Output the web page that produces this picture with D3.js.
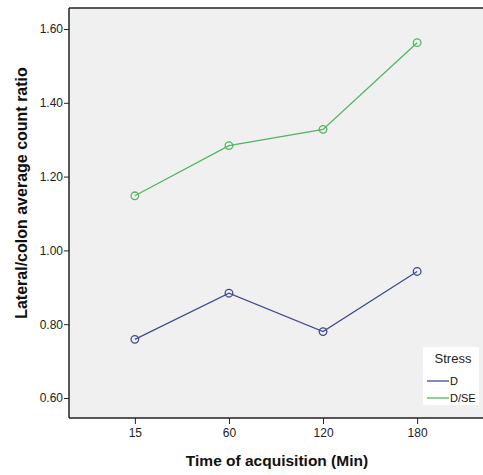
<!DOCTYPE html>
<html>
<head>
<meta charset="utf-8">
<script src="https://cdn.jsdelivr.net/npm/d3@7/dist/d3.min.js"></script>
<style>
  body { margin: 0; background: #fff; }
  svg { display: block; font-family: Arial, "Liberation Sans", sans-serif; }
</style>
</head>
<body>
<svg id="chart" width="483" height="475"></svg>
<script>
// values
var times = ['15', '60', '120', '180'];
var seriesNames = ['D', 'D/SE'];
var valuesD = [0.759, 0.884, 0.780, 0.943];
var valuesDSE = [1.148, 1.284, 1.328, 1.563];
var yTicks = [0.60, 0.80, 1.00, 1.20, 1.40, 1.60];
var colors = ['#3f4c8e', '#52b560'];

var width = 483;
var height = 475;
var plotLeft = 69;
var plotRight = 483;
var plotTop = 8;
var plotBottom = 418;

var svg = d3.select('#chart');

var x = d3.scalePoint()
    .domain(times)
    .range([plotLeft, plotRight])
    .padding(0.7);

var y = d3.scaleLinear()
    .domain([0.6, 1.6])
    .range([398, 29]);

// plot background
svg.append('rect')
    .attr('x', plotLeft)
    .attr('y', plotTop)
    .attr('width', plotRight - plotLeft)
    .attr('height', plotBottom - plotTop)
    .attr('fill', '#f0f0f0');

// frame top line
svg.append('line')
    .attr('x1', plotLeft).attr('x2', plotRight)
    .attr('y1', plotTop).attr('y2', plotTop)
    .attr('stroke', '#222').attr('stroke-width', 1.5);

// y axis
var yAxis = svg.append('g')
    .attr('transform', 'translate(' + plotLeft + ',0)')
    .call(d3.axisLeft(y).tickValues(yTicks).tickFormat(d3.format('.2f')).tickSize(5).tickSizeOuter(0));
yAxis.select('.domain').remove();
yAxis.append('line')
    .attr('x1', 0).attr('x2', 0)
    .attr('y1', plotTop).attr('y2', plotBottom)
    .attr('stroke', '#222').attr('stroke-width', 1.5);
yAxis.selectAll('.tick line').attr('stroke', '#222');
yAxis.selectAll('.tick text')
    .attr('font-size', 12)
    .attr('fill', '#222')
    .attr('x', -6);

// x axis
var xAxis = svg.append('g')
    .attr('transform', 'translate(0,' + plotBottom + ')')
    .call(d3.axisBottom(x).tickSize(6).tickSizeOuter(0));
xAxis.select('.domain').remove();
xAxis.append('line')
    .attr('x1', plotLeft).attr('x2', plotRight)
    .attr('y1', 0).attr('y2', 0)
    .attr('stroke', '#222').attr('stroke-width', 1.5);
xAxis.selectAll('.tick line').attr('stroke', '#222');
xAxis.selectAll('.tick text')
    .attr('font-size', 12)
    .attr('fill', '#222')
    .attr('y', 10);

// axis titles
svg.append('text')
    .attr('x', (plotLeft + plotRight) / 2 + 1)
    .attr('y', 466)
    .attr('text-anchor', 'middle')
    .attr('font-size', 15.5)
    .attr('font-weight', 'bold')
    .attr('fill', '#111')
    .text('Time of acquisition (Min)');

svg.append('text')
    .attr('transform', 'translate(27,' + ((plotTop + plotBottom) / 2 - 20) + ') rotate(-90)')
    .attr('text-anchor', 'middle')
    .attr('font-size', 16)
    .attr('font-weight', 'bold')
    .attr('fill', '#111')
    .text('Lateral/colon average count ratio');

// lines and markers
var series = [valuesD, valuesDSE];
var line = d3.line()
    .x(function (d, i) { return x(times[i]); })
    .y(function (d) { return y(d); });

series.forEach(function (vals, k) {
    svg.append('path')
        .attr('d', line(vals))
        .attr('fill', 'none')
        .attr('stroke', colors[k])
        .attr('stroke-width', 1.3);

    svg.selectAll('.pt' + k)
        .data(vals)
        .enter()
        .append('circle')
        .attr('class', 'pt' + k)
        .attr('cx', function (d, i) { return x(times[i]); })
        .attr('cy', function (d) { return y(d); })
        .attr('r', 3.8)
        .attr('fill', 'none')
        .attr('stroke', colors[k])
        .attr('stroke-width', 1.3);
});

// legend
var legend = svg.append('g').attr('transform', 'translate(423,347)');
legend.append('rect')
    .attr('width', 56)
    .attr('height', 58)
    .attr('fill', '#fff');
legend.append('text')
    .attr('x', 30)
    .attr('y', 16)
    .attr('text-anchor', 'middle')
    .attr('font-size', 13)
    .attr('fill', '#222')
    .text('Stress');
seriesNames.forEach(function (name, k) {
    var ly = 34 + k * 17;
    legend.append('line')
        .attr('x1', 4).attr('x2', 26)
        .attr('y1', ly).attr('y2', ly)
        .attr('stroke', colors[k])
        .attr('stroke-width', 1.3);
    legend.append('text')
        .attr('x', 27)
        .attr('y', ly + 4)
        .attr('font-size', 11)
        .attr('fill', '#111')
        .text(name);
});
</script>
</body>
</html>
